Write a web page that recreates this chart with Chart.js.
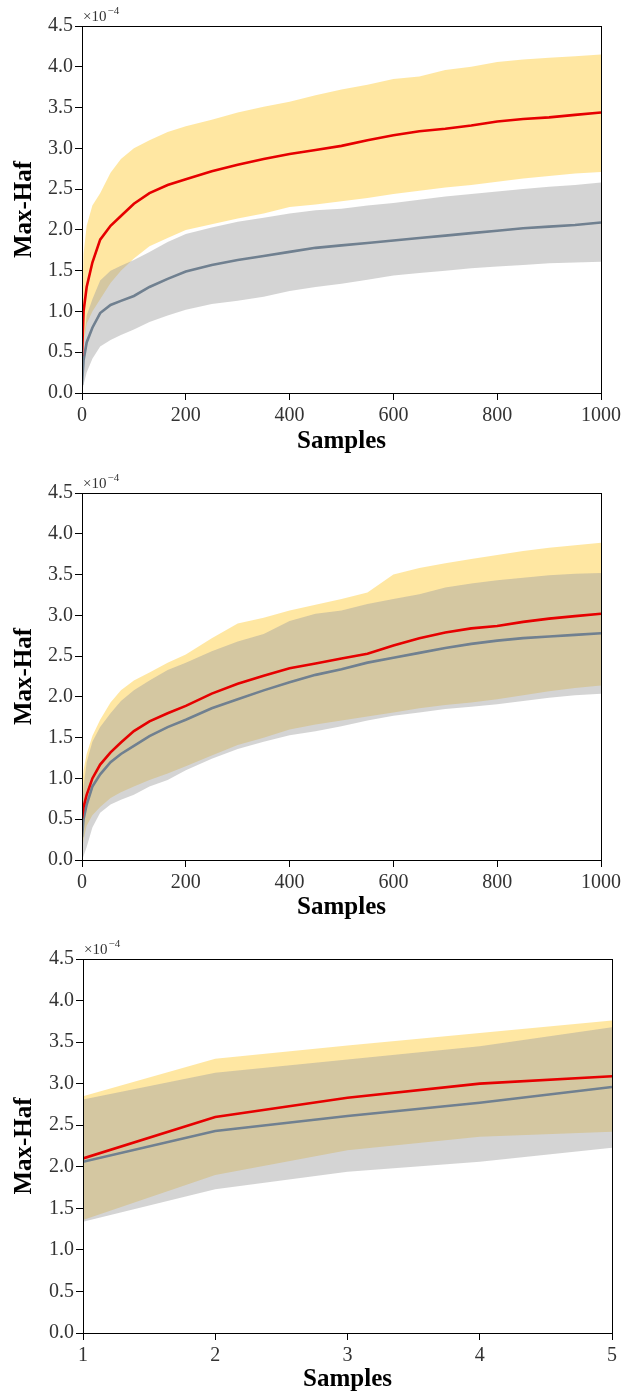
<!DOCTYPE html>
<html>
<head>
<meta charset="utf-8">
<script src="https://cdn.jsdelivr.net/npm/chart.js@4.4.1/dist/chart.umd.min.js"></script>
<style>
  body { margin: 0; background: #fff; }
  .box { position: absolute; left: 0; width: 635px; }
</style>
</head>
<body>
<div class="box" style="top:0;height:464px"><canvas id="c1"></canvas></div>
<div class="box" style="top:466px;height:464px"><canvas id="c2"></canvas></div>
<div class="box" style="top:932px;height:470px"><canvas id="c3"></canvas></div>
<script>
// sample positions
const sampleX = [0, 3, 9, 20, 35, 55, 75, 100, 130, 165, 200, 250, 300, 350, 400, 450, 500, 550, 600, 650, 700, 750, 800, 850, 900, 950, 1000];

// panel 1 (values in units of 1e-4)
const c1Red      = [0.45, 1.0, 1.3, 1.6, 1.88, 2.05, 2.17, 2.32, 2.45, 2.55, 2.62, 2.72, 2.8, 2.87, 2.93, 2.98, 3.03, 3.1, 3.16, 3.21, 3.24, 3.28, 3.33, 3.36, 3.38, 3.41, 3.44];
const c1Gray     = [0.1, 0.4, 0.62, 0.8, 0.98, 1.08, 1.13, 1.19, 1.3, 1.4, 1.49, 1.57, 1.63, 1.68, 1.73, 1.78, 1.81, 1.84, 1.87, 1.9, 1.93, 1.96, 1.99, 2.02, 2.04, 2.06, 2.09];
const c1YellowHi = [1.0, 1.7, 2.05, 2.3, 2.45, 2.7, 2.87, 3.0, 3.1, 3.2, 3.27, 3.35, 3.44, 3.51, 3.57, 3.65, 3.72, 3.78, 3.85, 3.88, 3.96, 4.0, 4.06, 4.09, 4.11, 4.13, 4.15];
const c1YellowLo = [0.4, 0.6, 0.85, 1.0, 1.15, 1.35, 1.5, 1.65, 1.8, 1.9, 2.0, 2.07, 2.14, 2.2, 2.28, 2.31, 2.35, 2.39, 2.44, 2.48, 2.52, 2.55, 2.59, 2.63, 2.66, 2.69, 2.71];
const c1GrayHi   = [0.45, 0.6, 0.95, 1.15, 1.38, 1.5, 1.56, 1.63, 1.73, 1.85, 1.95, 2.03, 2.1, 2.15, 2.2, 2.24, 2.26, 2.3, 2.33, 2.37, 2.41, 2.44, 2.47, 2.5, 2.53, 2.55, 2.58];
const c1GrayLo   = [0.0, 0.1, 0.25, 0.42, 0.57, 0.65, 0.71, 0.78, 0.87, 0.95, 1.02, 1.09, 1.13, 1.18, 1.25, 1.3, 1.34, 1.39, 1.44, 1.47, 1.5, 1.53, 1.55, 1.57, 1.59, 1.6, 1.61];

// panel 2
const c2Red      = [0.51, 0.65, 0.8, 1.0, 1.17, 1.32, 1.44, 1.58, 1.7, 1.8, 1.89, 2.04, 2.16, 2.26, 2.35, 2.41, 2.47, 2.53, 2.63, 2.72, 2.79, 2.84, 2.87, 2.92, 2.96, 2.99, 3.02];
const c2Gray     = [0.28, 0.5, 0.68, 0.9, 1.05, 1.2, 1.3, 1.4, 1.52, 1.63, 1.72, 1.86, 1.97, 2.08, 2.18, 2.27, 2.34, 2.42, 2.48, 2.54, 2.6, 2.65, 2.69, 2.72, 2.74, 2.76, 2.78];
const c2YellowHi = [0.9, 1.1, 1.3, 1.52, 1.72, 1.93, 2.08, 2.2, 2.3, 2.42, 2.52, 2.72, 2.9, 2.97, 3.06, 3.13, 3.2, 3.28, 3.5, 3.58, 3.64, 3.69, 3.74, 3.79, 3.83, 3.86, 3.89];
const c2YellowLo = [0.1, 0.25, 0.42, 0.55, 0.65, 0.76, 0.83, 0.9, 0.98, 1.06, 1.15, 1.28, 1.41, 1.5, 1.6, 1.66, 1.71, 1.76, 1.81, 1.86, 1.9, 1.93, 1.97, 2.02, 2.07, 2.11, 2.14];
const c2GrayHi   = [0.6, 0.9, 1.2, 1.45, 1.63, 1.8, 1.95, 2.08, 2.2, 2.33, 2.42, 2.56, 2.68, 2.77, 2.93, 3.02, 3.06, 3.14, 3.2, 3.26, 3.34, 3.39, 3.43, 3.46, 3.49, 3.51, 3.52];
const c2GrayLo   = [0.0, 0.05, 0.16, 0.4, 0.58, 0.68, 0.74, 0.8, 0.9, 0.98, 1.1, 1.24, 1.36, 1.45, 1.53, 1.58, 1.64, 1.71, 1.77, 1.81, 1.85, 1.88, 1.91, 1.95, 1.99, 2.02, 2.04];

// panel 3
const c3X        = [1, 2, 3, 4, 5];
const c3Red      = [2.1, 2.6, 2.83, 3.0, 3.09];
const c3Gray     = [2.06, 2.43, 2.61, 2.77, 2.96];
const c3YellowHi = [2.85, 3.3, 3.46, 3.61, 3.76];
const c3YellowLo = [1.36, 1.9, 2.2, 2.36, 2.42];
const c3GrayHi   = [2.81, 3.13, 3.29, 3.45, 3.68];
const c3GrayLo   = [1.34, 1.73, 1.94, 2.06, 2.23];

const yTicks = [0, 4.5, 0.5];

const serif = '"Liberation Serif", "Times New Roman", serif';
const yellowFill = 'rgba(255, 200, 40, 0.43)';
const grayFill = 'rgba(160, 160, 160, 0.45)';

const pts = (xs, ys) => xs.map((x, i) => ({ x: x, y: ys[i] }));

// box around the plot + the x10^-4 offset text
const frame = {
  id: 'frame',
  afterDraw(chart) {
    const { ctx, chartArea: a } = chart;
    ctx.save();
    ctx.strokeStyle = '#000';
    ctx.lineWidth = 1;
    ctx.strokeRect(Math.round(a.left) + 0.5, Math.round(a.top) + 0.5,
                   Math.round(a.right - a.left), Math.round(a.bottom - a.top));
    ctx.fillStyle = '#333';
    ctx.textBaseline = 'alphabetic';
    ctx.font = '15px ' + serif;
    ctx.fillText('×10', a.left + 1, a.top - 5);
    const w = ctx.measureText('×10').width;
    ctx.font = '11px ' + serif;
    ctx.fillText('−4', a.left + 2 + w, a.top - 12);
    ctx.restore();
  }
};

function band(data, fill, color) {
  return { data: data, fill: fill, backgroundColor: color, borderWidth: 0, pointRadius: 0 };
}

function makeChart(id, xs, s, o) {
  const ds = [
    Object.assign(band(pts(xs, s.yHi), '+1', yellowFill), { order: 4 }),
    Object.assign(band(pts(xs, s.yLo), false, yellowFill), { order: 4 }),
    Object.assign(band(pts(xs, s.gHi), '+1', grayFill), { order: 3 }),
    Object.assign(band(pts(xs, s.gLo), false, grayFill), { order: 3 }),
    { data: pts(xs, s.gray), borderColor: '#708090', borderWidth: 2.6, pointRadius: 0, fill: false, order: 2 },
    { data: pts(xs, s.red), borderColor: '#e60000', borderWidth: 2.6, pointRadius: 0, fill: false, order: 1 }
  ];
  return new Chart(document.getElementById(id), {
    type: 'line',
    data: { datasets: ds },
    options: {
      responsive: true,
      maintainAspectRatio: false,
      animation: false,
      layout: { padding: { top: o.top, right: o.right, left: 0, bottom: 0 } },
      plugins: { legend: { display: false }, tooltip: { enabled: false } },
      scales: {
        x: {
          type: 'linear',
          min: o.xMin, max: o.xMax,
          ticks: { stepSize: o.xStep, autoSkip: false, maxRotation: 0, padding: 4,
                   color: '#333', font: { family: serif, size: 20 },
                   callback: v => String(v) },
          grid: { drawOnChartArea: false, tickLength: 7, color: '#000' },
          border: { color: '#000' },
          title: { display: true, text: 'Samples', color: '#000',
                   font: { family: serif, size: 25, weight: 'bold' },
                   padding: { top: 0, bottom: 7 } },
          afterFit: sc => { sc.height = o.xh; }
        },
        y: {
          min: yTicks[0], max: yTicks[1],
          ticks: { stepSize: yTicks[2], padding: 2, color: '#333',
                   font: { family: serif, size: 20 },
                   callback: v => v.toFixed(1) },
          grid: { drawOnChartArea: false, tickLength: 7, color: '#000' },
          border: { color: '#000' },
          title: { display: true, text: 'Max-Haf', color: '#000',
                   font: { family: serif, size: 25, weight: 'bold' },
                   padding: { top: 10, bottom: 0 } },
          afterFit: sc => { sc.width = o.left; }
        }
      }
    },
    plugins: [frame]
  });
}

makeChart('c1', sampleX,
  { red: c1Red, gray: c1Gray, yHi: c1YellowHi, yLo: c1YellowLo, gHi: c1GrayHi, gLo: c1GrayLo },
  { top: 26, right: 34, left: 82, xh: 71, xMin: 0, xMax: 1000, xStep: 200 });

makeChart('c2', sampleX,
  { red: c2Red, gray: c2Gray, yHi: c2YellowHi, yLo: c2YellowLo, gHi: c2GrayHi, gLo: c2GrayLo },
  { top: 27, right: 34, left: 82, xh: 70, xMin: 0, xMax: 1000, xStep: 200 });

makeChart('c3', c3X,
  { red: c3Red, gray: c3Gray, yHi: c3YellowHi, yLo: c3YellowLo, gHi: c3GrayHi, gLo: c3GrayLo },
  { top: 27, right: 23, left: 83, xh: 69, xMin: 1, xMax: 5, xStep: 1 });
</script>
</body>
</html>
